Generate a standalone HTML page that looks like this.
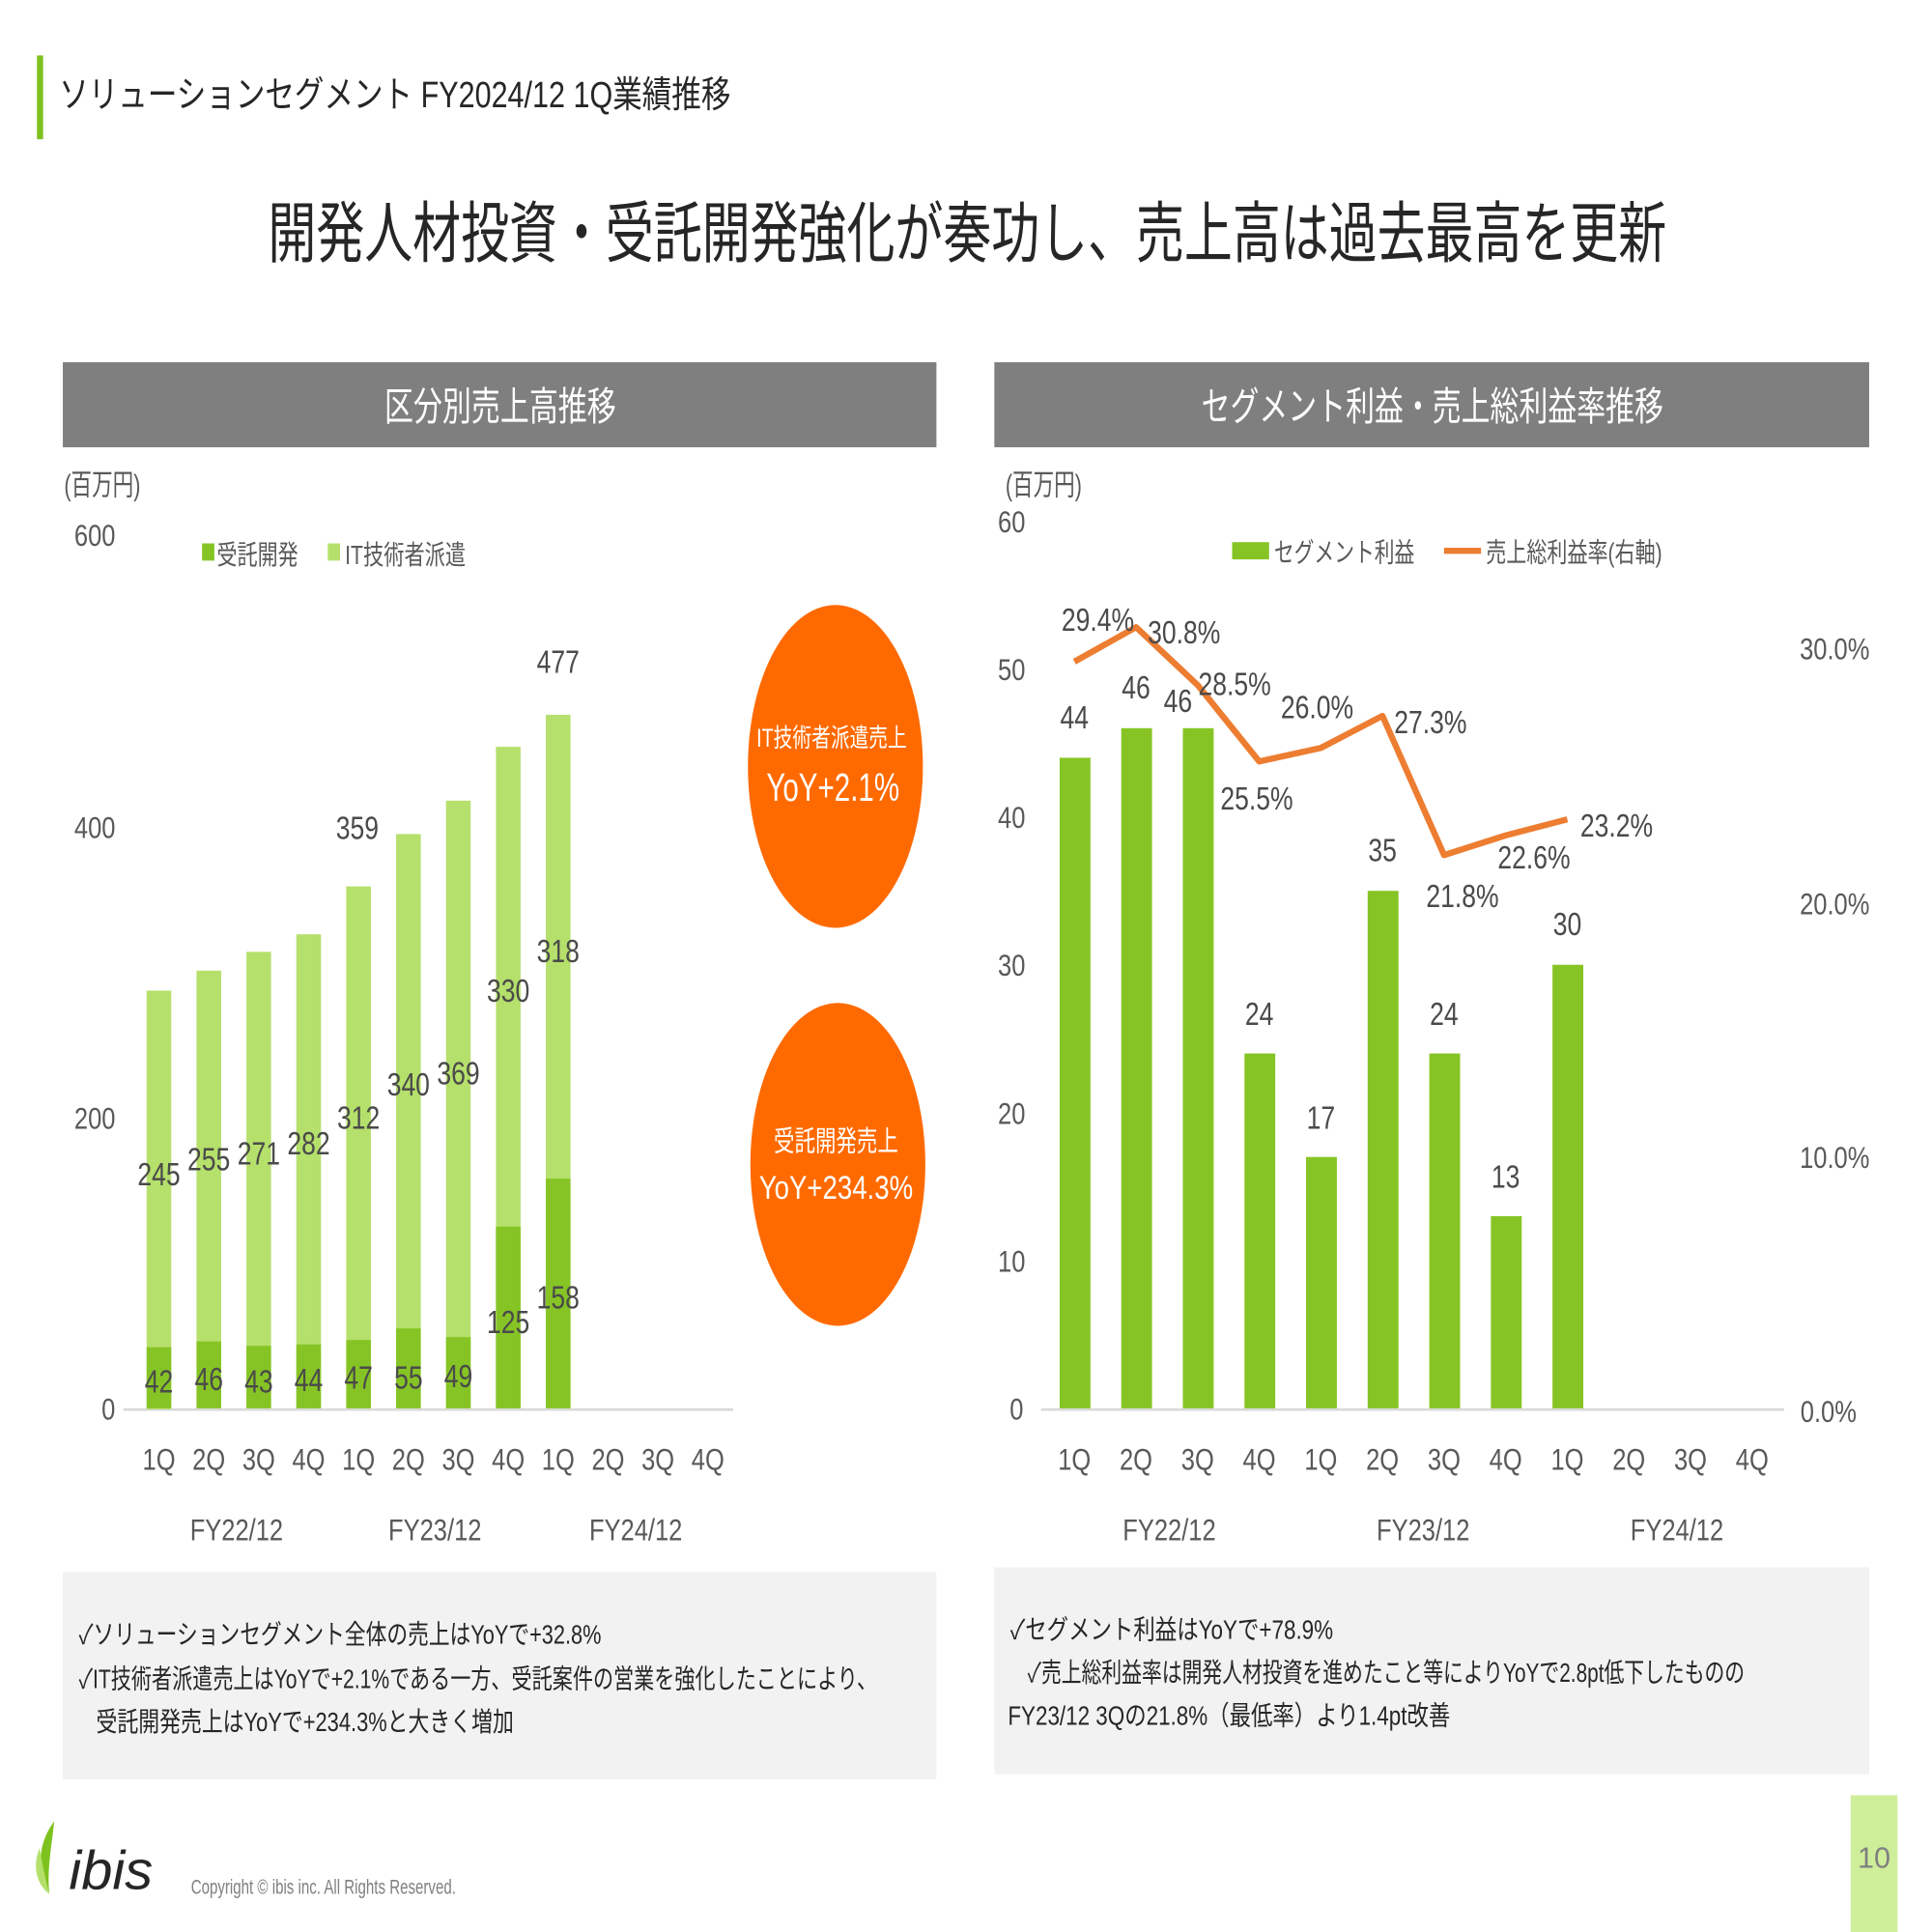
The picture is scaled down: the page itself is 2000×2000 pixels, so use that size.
<!DOCTYPE html>
<html><head><meta charset="utf-8"><style>
html,body{margin:0;padding:0;background:#fff}
svg{display:block}
text{font-family:"Liberation Sans","Noto Sans CJK JP",sans-serif;}
.n text,text.n{transform-box:fill-box;transform-origin:center;transform:scaleX(0.8);}
</style></head><body>
<svg width="2000" height="2000" viewBox="0 0 1568 1568" xmlns="http://www.w3.org/2000/svg">
<rect width="1568" height="1568" fill="#fff"/>
<rect x="30" y="45" width="5" height="68" fill="#7dc21e"/>
<text x="48" y="87" font-size="30" fill="#262626" textLength="545" lengthAdjust="spacingAndGlyphs">ソリューションセグメント FY2024/12 1Q業績推移</text>
<text x="785" y="208" font-size="54" fill="#262626" text-anchor="middle" textLength="1135" lengthAdjust="spacingAndGlyphs">開発人材投資・受託開発強化が奏功し、売上高は過去最高を更新</text>
<rect x="51" y="294" width="709" height="69" fill="#7f7f7f"/>
<text x="312" y="341" font-size="32" fill="#fff" textLength="188" lengthAdjust="spacingAndGlyphs">区分別売上高推移</text>
<rect x="807" y="294" width="710" height="69" fill="#7f7f7f"/>
<text x="975" y="341" font-size="32" fill="#fff" textLength="375" lengthAdjust="spacingAndGlyphs">セグメント利益・売上総利益率推移</text>

<!-- LEFT CHART -->
<text x="52" y="402" font-size="24" fill="#595959" textLength="62" lengthAdjust="spacingAndGlyphs">(百万円)</text>
<g class="n" fill="#595959" font-size="25" text-anchor="middle">
<text x="77" y="443">600</text>
<text x="77" y="680">400</text>
<text x="77" y="916">200</text>
<text x="88" y="1152">0</text>
</g>
<rect x="164" y="441" width="10" height="14" fill="#86c425"/>
<text x="176" y="458" font-size="22" fill="#595959" textLength="66" lengthAdjust="spacingAndGlyphs">受託開発</text>
<rect x="266" y="441" width="10" height="14" fill="#b5e06b"/>
<text x="280" y="458" font-size="22" fill="#595959" textLength="98" lengthAdjust="spacingAndGlyphs">IT技術者派遣</text>
<line x1="100" y1="1144" x2="595" y2="1144" stroke="#d9d9d9" stroke-width="2"/>
<rect x="119" y="804" width="20" height="339.7" fill="#b5e06b"/><rect x="119" y="1093.4" width="20" height="49.6" fill="#86c425"/>
<rect x="159.5" y="787.8" width="20" height="355.2" fill="#b5e06b"/><rect x="159.5" y="1088.7" width="20" height="54.3" fill="#86c425"/>
<rect x="200" y="772.5" width="20" height="370.5" fill="#b5e06b"/><rect x="200" y="1092.3" width="20" height="50.7" fill="#86c425"/>
<rect x="240.5" y="758.3" width="20" height="384.7" fill="#b5e06b"/><rect x="240.5" y="1091.1" width="20" height="51.9" fill="#86c425"/>
<rect x="281" y="719.4" width="20" height="423.6" fill="#b5e06b"/><rect x="281" y="1087.5" width="20" height="55.5" fill="#86c425"/>
<rect x="321.5" y="676.9" width="20" height="466.1" fill="#b5e06b"/><rect x="321.5" y="1078.1" width="20" height="64.9" fill="#86c425"/>
<rect x="362" y="649.8" width="20" height="493.2" fill="#b5e06b"/><rect x="362" y="1085.2" width="20" height="57.8" fill="#86c425"/>
<rect x="402.5" y="606.1" width="20" height="536.9" fill="#b5e06b"/><rect x="402.5" y="995.5" width="20" height="147.5" fill="#86c425"/>
<rect x="443" y="580.1" width="20" height="562.9" fill="#b5e06b"/><rect x="443" y="956.6" width="20" height="186.4" fill="#86c425"/>
<g class="n" fill="#4a4a4a" font-size="26" text-anchor="middle">
<text x="129" y="1130">42</text><text x="169.5" y="1128">46</text><text x="210" y="1130">43</text><text x="250.5" y="1129">44</text><text x="291" y="1127">47</text><text x="331.5" y="1127">55</text><text x="372" y="1126">49</text><text x="412.5" y="1082">125</text><text x="453" y="1062">158</text>
<text x="129" y="962">245</text><text x="169.5" y="950">255</text><text x="210" y="945">271</text><text x="250.5" y="937">282</text><text x="291" y="916">312</text><text x="331.5" y="889">340</text><text x="372" y="880">369</text><text x="412.5" y="813">330</text><text x="453" y="781">318</text>
<text x="290" y="681">359</text><text x="453" y="546">477</text>
</g>
<g class="n" fill="#595959" font-size="25" text-anchor="middle">
<text x="129" y="1193">1Q</text><text x="169.5" y="1193">2Q</text><text x="210" y="1193">3Q</text><text x="250.5" y="1193">4Q</text><text x="291" y="1193">1Q</text><text x="331.5" y="1193">2Q</text><text x="372" y="1193">3Q</text><text x="412.5" y="1193">4Q</text><text x="453" y="1193">1Q</text><text x="493.5" y="1193">2Q</text><text x="534" y="1193">3Q</text><text x="574.5" y="1193">4Q</text>
<text x="192" y="1250">FY22/12</text><text x="353" y="1250">FY23/12</text><text x="516" y="1250">FY24/12</text>
</g>
<ellipse cx="678" cy="622" rx="71" ry="131" fill="#ff6a00"/>
<text x="614" y="606" font-size="21" fill="#fff" textLength="122" lengthAdjust="spacingAndGlyphs">IT技術者派遣売上</text>
<text x="622" y="650" font-size="32" fill="#fff" textLength="108" lengthAdjust="spacingAndGlyphs">YoY+2.1%</text>
<ellipse cx="680" cy="945" rx="71" ry="131" fill="#ff6a00"/>
<text x="628" y="934" font-size="23" fill="#fff" textLength="101" lengthAdjust="spacingAndGlyphs">受託開発売上</text>
<text x="616" y="973" font-size="27" fill="#fff" textLength="125" lengthAdjust="spacingAndGlyphs">YoY+234.3%</text>

<!-- RIGHT CHART -->
<text x="816" y="402" font-size="24" fill="#595959" textLength="62" lengthAdjust="spacingAndGlyphs">(百万円)</text>
<g class="n" fill="#595959" font-size="25" text-anchor="middle">
<text x="821" y="432">60</text>
<text x="821" y="552">50</text>
<text x="821" y="672">40</text>
<text x="821" y="792">30</text>
<text x="821" y="912">20</text>
<text x="821" y="1032">10</text>
<text x="825" y="1152">0</text>
<text x="1489" y="535">30.0%</text>
<text x="1489" y="742">20.0%</text>
<text x="1489" y="948">10.0%</text>
<text x="1484" y="1154">0.0%</text>
</g>
<rect x="1000" y="440" width="30" height="14" fill="#86c425"/>
<text x="1034" y="456" font-size="22" fill="#595959" textLength="114" lengthAdjust="spacingAndGlyphs">セグメント利益</text>
<line x1="1172" y1="447" x2="1202" y2="447" stroke="#ed7d31" stroke-width="5"/>
<text x="1206" y="456" font-size="22" fill="#595959" textLength="143" lengthAdjust="spacingAndGlyphs">売上総利益率(右軸)</text>
<line x1="845" y1="1144" x2="1448" y2="1144" stroke="#d9d9d9" stroke-width="2"/>
<g fill="#86c425">
<rect x="860" y="615" width="25" height="528"/>
<rect x="910" y="591" width="25" height="552"/>
<rect x="960" y="591" width="25" height="552"/>
<rect x="1010" y="855" width="25" height="288"/>
<rect x="1060" y="939" width="25" height="204"/>
<rect x="1110" y="723" width="25" height="420"/>
<rect x="1160" y="855" width="25" height="288"/>
<rect x="1210" y="987" width="25" height="156"/>
<rect x="1260" y="783" width="25" height="360"/>
</g>
<polyline points="872,537 922,509 972,556 1022,618 1072,607 1122,581 1172,694 1222,678 1272,665" fill="none" stroke="#ed7d31" stroke-width="5" stroke-linejoin="round"/>
<g class="n" fill="#4a4a4a" font-size="26" text-anchor="middle">
<text x="872" y="591">44</text><text x="922" y="567">46</text><text x="956" y="578">46</text><text x="1022" y="832">24</text><text x="1072" y="916">17</text><text x="1122" y="699">35</text><text x="1172" y="832">24</text><text x="1222" y="964">13</text><text x="1272" y="759">30</text>
<text x="891" y="512">29.4%</text><text x="961" y="522">30.8%</text><text x="1002" y="564">28.5%</text><text x="1020" y="657">25.5%</text><text x="1069" y="583">26.0%</text><text x="1161" y="595">27.3%</text><text x="1187" y="736">21.8%</text><text x="1245" y="705">22.6%</text><text x="1312" y="679">23.2%</text>
</g>
<g class="n" fill="#595959" font-size="25" text-anchor="middle">
<text x="872" y="1193">1Q</text><text x="922" y="1193">2Q</text><text x="972" y="1193">3Q</text><text x="1022" y="1193">4Q</text><text x="1072" y="1193">1Q</text><text x="1122" y="1193">2Q</text><text x="1172" y="1193">3Q</text><text x="1222" y="1193">4Q</text><text x="1272" y="1193">1Q</text><text x="1322" y="1193">2Q</text><text x="1372" y="1193">3Q</text><text x="1422" y="1193">4Q</text>
<text x="949" y="1250">FY22/12</text><text x="1155" y="1250">FY23/12</text><text x="1361" y="1250">FY24/12</text>
</g>

<!-- bottom boxes -->
<rect x="51" y="1276" width="709" height="168" fill="#f2f2f2"/>
<g fill="#262626" font-size="22">
<text x="64" y="1334" textLength="424" lengthAdjust="spacingAndGlyphs">✓ソリューションセグメント全体の売上はYoYで+32.8%</text>
<text x="64" y="1370" textLength="648" lengthAdjust="spacingAndGlyphs">✓IT技術者派遣売上はYoYで+2.1%である一方、受託案件の営業を強化したことにより、</text>
<text x="78" y="1405" textLength="339" lengthAdjust="spacingAndGlyphs">受託開発売上はYoYで+234.3%と大きく増加</text>
</g>
<rect x="807" y="1272" width="710" height="168" fill="#f2f2f2"/>
<g fill="#262626" font-size="22">
<text x="820" y="1330" textLength="262" lengthAdjust="spacingAndGlyphs">✓セグメント利益はYoYで+78.9%</text>
<text x="834" y="1365" textLength="582" lengthAdjust="spacingAndGlyphs">✓売上総利益率は開発人材投資を進めたこと等によりYoYで2.8pt低下したものの</text>
<text x="818" y="1400" textLength="359" lengthAdjust="spacingAndGlyphs">FY23/12 3Qの21.8%（最低率）より1.4pt改善</text>
</g>

<!-- footer -->
<path d="M44,1478 C28,1500 32,1522 40,1537 C38,1517 42,1498 44,1478Z" fill="#7dc21e"/>
<path d="M32,1500 C26,1515 30,1530 40,1537 C36,1522 34,1510 32,1500Z" fill="#b5e06b"/>
<text x="56" y="1533" font-size="44" font-style="italic" fill="#262626" textLength="68" lengthAdjust="spacingAndGlyphs">ibis</text>
<text x="155" y="1537" font-size="17" fill="#808080" textLength="215" lengthAdjust="spacingAndGlyphs">Copyright © ibis inc. All Rights Reserved.</text>
<rect x="1502" y="1457" width="38" height="111" fill="#cfee9a"/>
<text x="1521" y="1516" font-size="24" fill="#808080" text-anchor="middle">10</text>
</svg>
</body></html>
